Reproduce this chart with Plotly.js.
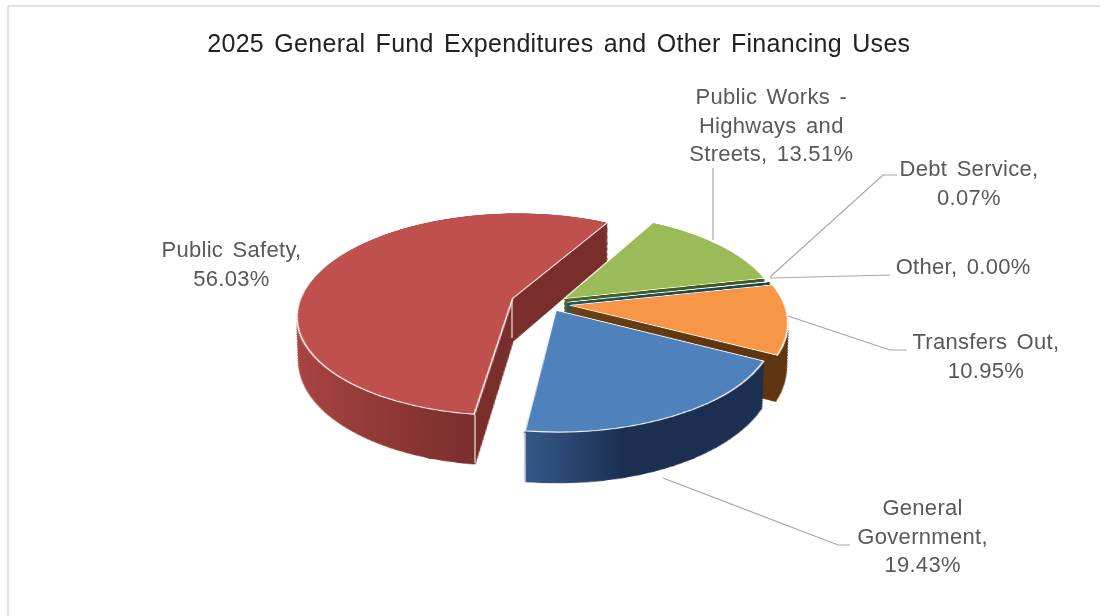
<!DOCTYPE html>
<html>
<head>
<meta charset="utf-8">
<script src="https://cdn.plot.ly/plotly-3.0.1.min.js"></script>
<style>
html,body{margin:0;padding:0;background:#fff;width:1102px;height:616px;overflow:hidden}
#stage{position:relative;width:1102px;height:616px;overflow:hidden}
#pie{position:absolute;left:49px;top:-196px;width:1000px;height:1000px;
  transform-origin:500px 500px;transform:perspective(1200px) rotateX(62deg)}
#over{position:absolute;left:0;top:0;width:1102px;height:616px}
#over .annotation text{word-spacing:3px;letter-spacing:.3px}
</style>
</head>
<body>
<div id="stage"><div id="pie"></div><div id="over"></div></div>
<script>
const categories = ["Public Works - Highways and Streets","Debt Service","Other","Transfers Out","General Government","Public Safety"];
const values = [13.51,0.07,0.00,10.95,19.43,56.03];
const pulls = [0.09,0.09,0.09,0.10,0.07,0.18];
const topColors = ["#9bbb59","#4bacc6","#8064a2","#f79646","#4f81bd","#c0504d"];
const wallLight = ["#4a6528","#1f5568","#403152","#6e4115","#35598a","#ab4643"];
const wallDark  = ["#3f5a1f","#1c4a5a","#403152","#5f3610","#1b2f50","#7a2e2c"];
const wallFade  = [0.6,0.6,0.6,0.6,0.38,0.6];
const titleText = "2025 General Fund Expenditures and Other Financing Uses";
const labelLines = [
  ["Public Works -","Highways and","Streets, 13.51%"],
  ["Debt Service,","0.07%"],
  ["Other, 0.00%"],
  ["Transfers Out,","10.95%"],
  ["General","Government,","19.43%"],
  ["Public Safety,","56.03%"]
];
const W=1102,H=616;
const labelPos=[[771,125],[969,183],[963,266],[986,356],[922,536],[231,264]];
const leaders=[
  [[713,168],[713,240]],
  [[897,175],[883,175],[770,277]],
  [[890,275],[770,278]],
  [[907,350],[890,350],[788,316]],
  [[850,545],[838,545],[663,478]]
];
// white highlights on the wall corners of the exploded slices
const wallEdges=[
  [[512,300],[512,338]],
  [[475,415],[475,463]],
  [[525,433],[525,483]]
];
const LAYERS=32, STEP=0.0027, HALF=0.2525, SHRINK=0.07/32;
const traces=[];
function pieTrace(k,colors,lineColors,lineWidths){
  const cy=0.5-k*STEP;
  const h=HALF*(1-k*SHRINK);
  return {type:'pie',labels:categories,values:values,sort:false,direction:'clockwise',rotation:29,
    pull:pulls,textinfo:'none',hoverinfo:'skip',showlegend:false,
    domain:{x:[0.5-h,0.5+h],y:[cy-h,cy+h]},
    marker:{colors:colors,line:{color:lineColors,width:lineWidths}}};
}
for(let k=LAYERS;k>=1;k--){
  traces.push(pieTrace(k,wallDark,wallDark,[1,2.5,0,1,1,1]));
}
traces.push(pieTrace(0,topColors,["#ffffff","#ffffff","#ffffff","#ffffff","#ffffff","#ffffff"],[1.5,1.5,0,1.5,1.5,1.5]));

Plotly.newPlot('pie',traces,{width:1000,height:1000,margin:{l:0,r:0,t:0,b:0},
  paper_bgcolor:'rgba(0,0,0,0)',showlegend:false},{staticPlot:true,displayModeBar:false}).then(gd=>{
  const svg=gd.querySelector('svg.main-svg');
  const NS='http://www.w3.org/2000/svg';
  const defs=svg.querySelector('defs')||svg.insertBefore(document.createElementNS(NS,'defs'),svg.firstChild);
  categories.forEach((c,i)=>{
    const g=document.createElementNS(NS,'linearGradient');
    g.setAttribute('id','wall'+i);
    [[0,wallLight[i]],[wallFade[i],wallDark[i]],[1,wallDark[i]]].forEach(s=>{
      const st=document.createElementNS(NS,'stop');
      st.setAttribute('offset',s[0]);st.setAttribute('stop-color',s[1]);g.appendChild(st);
    });
    defs.appendChild(g);
  });
  const tr=gd.querySelectorAll('.pielayer .trace');
  tr.forEach((t,ti)=>{
    if(ti>=LAYERS) return;
    t.querySelectorAll('.slice').forEach(s=>{
      const d=s.__data__; const p=s.querySelector('path.surface');
      if(d&&p){p.style.fill='url(#wall'+d.i+')';p.style.stroke='url(#wall'+d.i+')';}
    });
  });
});

const annotations=labelLines.map((l,i)=>({xref:'paper',yref:'paper',x:labelPos[i][0]/W,y:1-labelPos[i][1]/H,
  xanchor:'center',yanchor:'middle',align:'center',showarrow:false,text:l.join('<br>'),
  font:{family:'Liberation Sans, Arial, sans-serif',size:22,color:'#595959'}}));
annotations.push({xref:'paper',yref:'paper',x:559/W,y:1-43/H,xanchor:'center',yanchor:'middle',showarrow:false,
  text:titleText,font:{family:'Liberation Sans, Arial, sans-serif',size:25,color:'#222222'}});
const toPath=pts=>pts.map((p,i)=>(i?'L':'M')+(p[0]/W)+','+(1-p[1]/H)).join(' ');
const shapes=leaders.map(pts=>({type:'path',xref:'paper',yref:'paper',path:toPath(pts),line:{color:'#a6a6a6',width:1.2}}));
wallEdges.forEach(pts=>shapes.push({type:'path',xref:'paper',yref:'paper',path:toPath(pts),line:{color:'#f2e4e2',width:1.2}}));
shapes.push({type:'path',xref:'paper',yref:'paper',path:toPath([[8,616],[8,6],[1100,6]]),line:{color:'#d9d9d9',width:1.5}});
Plotly.newPlot('over',[],{width:W,height:H,margin:{l:0,r:0,t:0,b:0},paper_bgcolor:'rgba(0,0,0,0)',plot_bgcolor:'rgba(0,0,0,0)',
  xaxis:{visible:false},yaxis:{visible:false},annotations:annotations,shapes:shapes},{staticPlot:true,displayModeBar:false});
</script>
</body>
</html>
